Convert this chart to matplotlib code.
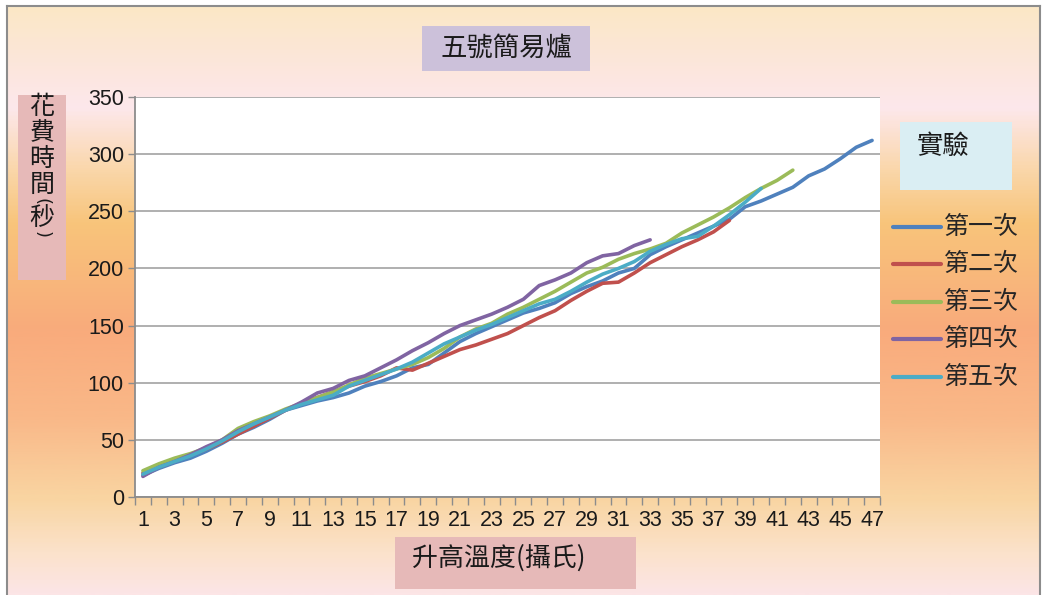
import numpy as np
import matplotlib
matplotlib.use("Agg")
import matplotlib.pyplot as plt
from matplotlib.colors import LinearSegmentedColormap
from matplotlib.lines import Line2D
from matplotlib.patches import Rectangle

# ---- data: time spent (s) for each degree of temperature rise ----
run1 = [19, 25, 30, 34, 40, 47, 55, 61, 68, 76, 80, 84, 87, 91, 97, 101, 106, 113, 116, 126,
        136, 143, 149, 155, 161, 165, 170, 178, 184, 189, 196, 200, 212, 219, 225, 231, 237, 243,
        254, 259, 265, 271, 281, 287, 296, 306, 312]
run2 = [21, 27, 32, 37, 42, 48, 55, 62, 69, 76, 82, 87, 92, 97, 101, 106, 113, 111, 117, 123,
        129, 133, 138, 143, 150, 157, 163, 172, 180, 187, 188, 196, 205, 212, 219, 225, 232, 242]
run3 = [23, 29, 34, 38, 43, 50, 60, 66, 71, 77, 82, 87, 92, 98, 104, 108, 112, 116, 122, 130,
        140, 147, 152, 160, 166, 173, 180, 188, 196, 201, 208, 213, 217, 222, 231, 238, 245, 253,
        262, 270, 277, 286]
run4 = [18, 26, 31, 37, 44, 50, 58, 64, 70, 76, 83, 91, 95, 102, 106, 113, 120, 128, 135, 143,
        150, 155, 160, 166, 173, 185, 190, 196, 205, 211, 213, 220, 225]
run5 = [20, 26, 31, 36, 42, 49, 57, 64, 70, 76, 81, 85, 89, 97, 102, 107, 112, 118, 126, 134,
        140, 146, 151, 157, 163, 169, 173, 180, 188, 195, 200, 206, 215, 221, 226, 228, 237, 247,
        258, 270]

series_names = ["第一次", "第二次", "第三次", "第四次", "第五次"]
series_values = [run1, run2, run3, run4, run5]
series_colors = ["#4F81BD", "#C0504D", "#9BBB59", "#8064A2", "#4BACC6"]

categories = list(range(1, 48))
y_ticks = [0, 50, 100, 150, 200, 250, 300, 350]

title_text = "五號簡易爐"
xlabel_text = "升高溫度(攝氏)"
ylabel_chars = ["花", "費", "時", "間", "(", "秒", ")"]
legend_title = "實驗"

CJK = ["Noto Sans CJK TC", "DejaVu Sans"]
NUM = ["Liberation Sans Narrow", "Liberation Sans", "DejaVu Sans"]

W, H = 1042, 595
fig = plt.figure(figsize=(W / 100, H / 100), dpi=100, facecolor="white")


def fx(px):
    return px / W


def fy(py):
    return 1 - py / H


# ---- gradient backdrop ----
stops = [(0.00, "#FBE8C6"), (0.10, "#FCE6DC"), (0.17, "#FDE8EC"), (0.28, "#FAD6A8"),
         (0.37, "#F8C47A"), (0.55, "#F9AB7C"), (0.70, "#F9B888"), (0.84, "#F9D5A2"),
         (0.93, "#FBE2CB"), (1.00, "#FCE5E6")]
cmap = LinearSegmentedColormap.from_list("bg", stops)
bg = fig.add_axes([fx(7), 0, fx(1040) - fx(7), fy(6)])
bg.imshow(np.linspace(0, 1, 400).reshape(-1, 1), aspect="auto", cmap=cmap,
          extent=[0, 1, 0, 1], origin="upper")
bg.set_xlim(0, 1)
bg.set_ylim(0, 1)
bg.axis("off")

# outer frame
for xs, ys in [([fx(7), fx(7)], [0, fy(6)]), ([fx(7), fx(1040)], [fy(6), fy(6)]),
               ([fx(1040), fx(1040)], [0, fy(6)])]:
    fig.add_artist(Line2D(xs, ys, color="#8C8C8C", lw=1.5, transform=fig.transFigure))

# ---- plot area ----
left, right, top, bottom = 135, 880, 97, 497
ax = fig.add_axes([fx(left), fy(bottom), fx(right) - fx(left), fy(top) - fy(bottom)])
ax.set_facecolor("white")

lines = []
for name, vals, col in zip(series_names, series_values, series_colors):
    x = np.arange(1, len(vals) + 1)
    ln, = ax.plot(x, vals, color=col, lw=2.6, solid_joinstyle="round",
                  solid_capstyle="round", label=name)
    lines.append(ln)

ax.set_xlim(0.5, len(categories) + 0.5)
ax.set_ylim(0, 350)
ax.set_yticks(y_ticks)
ax.yaxis.grid(True, color="#AFAFAF", lw=1.4)
ax.set_axisbelow(True)

ax.set_xticks(categories[::2])
ax.set_xticklabels([str(c) for c in categories[::2]])
ax.set_xticks(np.arange(0.5, len(categories) + 1, 1.0), minor=True)
ax.tick_params(axis="x", which="major", length=0, pad=9, labelsize=15.5, labelcolor="#1A1A1A")
ax.tick_params(axis="x", which="minor", length=6, width=1, color="#8C8C8C", direction="out")
ax.tick_params(axis="y", which="major", length=5, width=1, color="#8C8C8C", pad=3,
               labelsize=15.5, labelcolor="#1A1A1A")
for lab in ax.get_xticklabels() + ax.get_yticklabels():
    lab.set_family(NUM)

for s in ["top", "right"]:
    ax.spines[s].set_visible(False)
for s in ["left", "bottom"]:
    ax.spines[s].set_color("#8C8C8C")
    ax.spines[s].set_linewidth(1.3)

# ---- title box ----
fig.add_artist(Rectangle((fx(422), fy(71)), fx(590) - fx(422), fy(26) - fy(71),
                         transform=fig.transFigure, facecolor="#CCC1DA", edgecolor="none"))
fig.text(fx(506), fy(48), title_text, ha="center", va="center", fontsize=19,
         family=CJK, color="#1A1A1A")

# ---- y label box (stacked characters, brackets turned sideways) ----
fig.add_artist(Rectangle((fx(18), fy(280)), fx(66) - fx(18), fy(95) - fy(280),
                         transform=fig.transFigure, facecolor="#E6B9B8", edgecolor="none"))
ylabel_pos = [107, 133, 159, 185, 201, 218, 235]
for ch, ypos in zip(ylabel_chars, ylabel_pos):
    if ch in "()":
        fig.text(fx(42), fy(ypos), ch, ha="center", va="center", fontsize=13,
                 family=["DejaVu Sans"], color="#1A1A1A", rotation=-90,
                 rotation_mode="anchor")
    else:
        fig.text(fx(42), fy(ypos), ch, ha="center", va="center", fontsize=18,
                 family=CJK, color="#1A1A1A")

# ---- x label box ----
fig.add_artist(Rectangle((fx(395), fy(589)), fx(636) - fx(395), fy(537) - fy(589),
                         transform=fig.transFigure, facecolor="#E6B9B8", edgecolor="none"))
fig.text(fx(412), fy(558), xlabel_text, ha="left", va="center", fontsize=18.7,
         family=CJK, color="#1A1A1A")

# ---- legend ----
fig.add_artist(Rectangle((fx(900), fy(190)), fx(1012) - fx(900), fy(122) - fy(190),
                         transform=fig.transFigure, facecolor="#DAEEF3", edgecolor="none"))
fig.text(fx(917), fy(146), legend_title, ha="left", va="center", fontsize=19,
         family=CJK, color="#1A1A1A")

leg_y = [227, 264, 302, 339, 377]
for ln, ypos in zip(lines, leg_y):
    fig.add_artist(Line2D([fx(893), fx(941)], [fy(ypos), fy(ypos)], color=ln.get_color(),
                          lw=3, solid_capstyle="round", transform=fig.transFigure))
    fig.text(fx(944), fy(ypos), ln.get_label(), ha="left", va="center", fontsize=18,
             family=CJK, color="#262626")

fig.savefig("out.png", dpi=100, facecolor=fig.get_facecolor())
